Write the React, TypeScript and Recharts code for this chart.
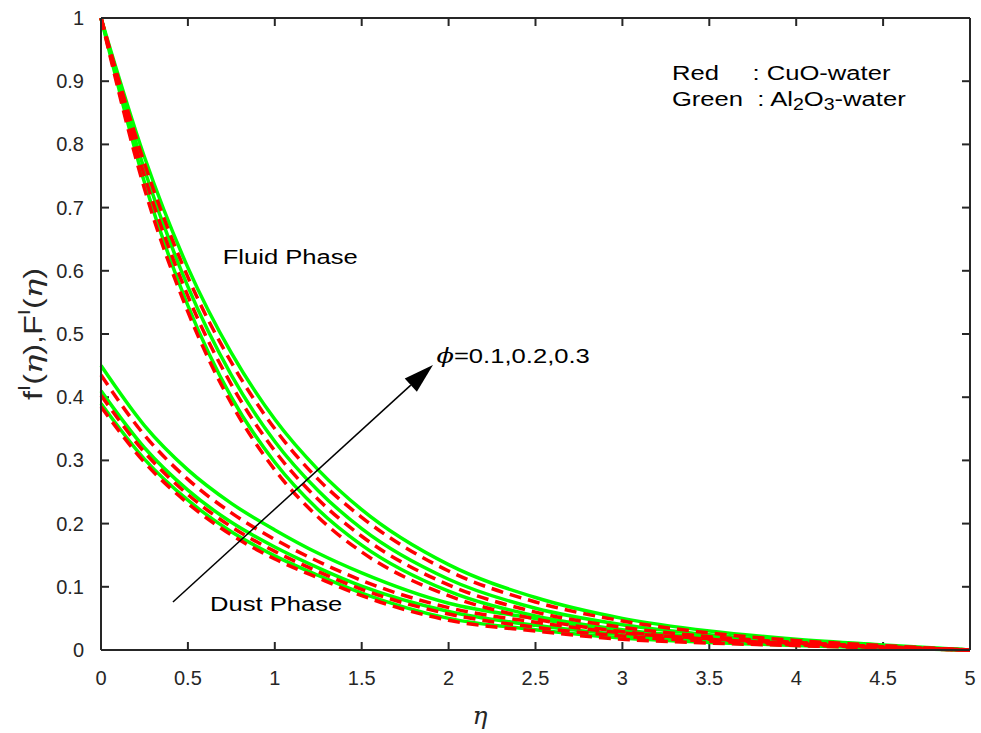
import React from 'react';
import { LineChart, Line, XAxis, YAxis, ReferenceLine, ReferenceDot } from 'recharts';

// eta grid
const eta = [0, 0.25, 0.5, 0.75, 1, 1.25, 1.5, 2, 2.5, 3, 3.5, 4, 4.5, 5];

// fluid phase f'(eta), phi = 0.1, 0.2, 0.3
const fluidCuO1 = [1, 0.73, 0.535, 0.39, 0.285, 0.21, 0.155, 0.086, 0.049, 0.029, 0.017, 0.01, 0.004, 0];
const fluidAl1 = [1, 0.74, 0.545, 0.4, 0.297, 0.222, 0.166, 0.093, 0.054, 0.032, 0.019, 0.011, 0.005, 0];
const fluidCuO2 = [1, 0.75, 0.56, 0.42, 0.315, 0.238, 0.18, 0.103, 0.06, 0.036, 0.021, 0.012, 0.005, 0];
const fluidAl2 = [1, 0.76, 0.575, 0.435, 0.33, 0.252, 0.192, 0.112, 0.066, 0.04, 0.024, 0.013, 0.006, 0];
const fluidCuO3 = [1, 0.77, 0.59, 0.455, 0.35, 0.27, 0.21, 0.125, 0.076, 0.046, 0.027, 0.015, 0.007, 0];
const fluidAl3 = [1, 0.78, 0.605, 0.47, 0.365, 0.285, 0.222, 0.135, 0.083, 0.05, 0.03, 0.017, 0.008, 0];

// dust phase F'(eta)
const dustCuO1 = [0.385, 0.297, 0.232, 0.182, 0.144, 0.114, 0.086, 0.047, 0.03, 0.017, 0.011, 0.007, 0.003, 0];
const dustAl1 = [0.39, 0.302, 0.237, 0.187, 0.149, 0.118, 0.09, 0.05, 0.032, 0.019, 0.012, 0.007, 0.003, 0];
const dustCuO2 = [0.403, 0.313, 0.246, 0.195, 0.156, 0.124, 0.096, 0.057, 0.036, 0.022, 0.014, 0.008, 0.004, 0];
const dustAl2 = [0.41, 0.32, 0.253, 0.202, 0.163, 0.13, 0.101, 0.061, 0.039, 0.024, 0.015, 0.009, 0.004, 0];
const dustCuO3 = [0.435, 0.34, 0.27, 0.217, 0.175, 0.14, 0.11, 0.067, 0.044, 0.027, 0.018, 0.011, 0.005, 0];
const dustAl3 = [0.45, 0.355, 0.285, 0.232, 0.19, 0.153, 0.122, 0.074, 0.05, 0.03, 0.02, 0.012, 0.005, 0];

const xTicks = [0, 0.5, 1, 1.5, 2, 2.5, 3, 3.5, 4, 4.5, 5];
const yTicks = [0, 0.1, 0.2, 0.3, 0.4, 0.5, 0.6, 0.7, 0.8, 0.9, 1];

const greens = { fluidAl1, fluidAl2, fluidAl3, dustAl1, dustAl2, dustAl3 };
const reds = { fluidCuO1, fluidCuO2, fluidCuO3, dustCuO1, dustCuO2, dustCuO3 };

const data = eta.map((x, i) => {
  const row: any = { eta: x };
  Object.entries(greens).forEach(([k, v]) => (row[k] = v[i]));
  Object.entries(reds).forEach(([k, v]) => (row[k] = v[i]));
  return row;
});

const FONT = '"Liberation Sans", Arial, sans-serif';
const AXIS = '#262626';
const TICK_LEN = 8;
const STRETCH = 1.22;

const BottomTick = (p: any) => (
  <text x={p.x} y={p.y} dy="0.71em" textAnchor="middle" fontSize={20} fontFamily={FONT} fill={AXIS}>
    {p.payload.value}
  </text>
);

const LeftTick = (p: any) => (
  <text x={p.x} y={p.y} dominantBaseline="central" textAnchor="end" fontSize={20} fontFamily={FONT} fill={AXIS}>
    {p.payload.value}
  </text>
);

// inward tick marks at both ends of a full-height / full-width reference line
const VTicks = (p: any) => {
  const { x1, y1, x2, y2 } = p;
  const lo = Math.max(y1, y2);
  const hi = Math.min(y1, y2);
  return (
    <g stroke={AXIS} strokeWidth={2}>
      <line x1={x1} y1={lo} x2={x2} y2={lo - TICK_LEN} />
      <line x1={x1} y1={hi} x2={x2} y2={hi + TICK_LEN} />
    </g>
  );
};
const HTicks = (p: any) => {
  const { x1, y1, x2, y2 } = p;
  const l = Math.min(x1, x2);
  const r = Math.max(x1, x2);
  return (
    <g stroke={AXIS} strokeWidth={2}>
      <line x1={l} y1={y1} x2={l + TICK_LEN} y2={y2} />
      <line x1={r} y1={y1} x2={r - TICK_LEN} y2={y2} />
    </g>
  );
};

const Arrow = (props: any) => {
  const { x1, y1, x2, y2 } = props;
  const ang = Math.atan2(y2 - y1, x2 - x1);
  const len = 30;
  const half = 9;
  const bx = x2 - len * Math.cos(ang);
  const by = y2 - len * Math.sin(ang);
  const px = -Math.sin(ang) * half;
  const py = Math.cos(ang) * half;
  return (
    <g>
      <line x1={x1} y1={y1} x2={bx} y2={by} stroke="#000" strokeWidth={1.5} />
      <polygon points={`${x2},${y2} ${bx + px},${by + py} ${bx - px},${by - py}`} fill="#000" />
    </g>
  );
};

// annotation text, horizontally stretched like the original export
const textLabel = (render: () => React.ReactNode) => (props: any) => {
  const vb = props.viewBox || {};
  const x = vb.x + (vb.width || 0) / 2;
  const y = vb.y + (vb.height || 0) / 2;
  return (
    <g transform={`translate(${x},${y}) scale(${STRETCH},1)`} fontSize={21} fontFamily={FONT} fill="#000">
      {render()}
    </g>
  );
};

const App = () => {
  return (
    <div style={{ position: 'absolute', left: 0, top: 0, background: '#fff' }}>
      <LineChart width={981} height={733} data={data} margin={{ top: 17, right: 10, left: 0, bottom: 0 }}>
        <XAxis
          dataKey="eta"
          type="number"
          domain={[0, 5]}
          ticks={xTicks}
          height={83}
          tickSize={0}
          tickLine={false}
          tickMargin={21}
          axisLine={{ stroke: AXIS, strokeWidth: 2 }}
          tick={BottomTick}
          label={{
            content: (p: any) => (
              <text x={p.viewBox.x + 379} y={p.viewBox.y + 74} textAnchor="middle" fontSize={25} fontStyle="italic" fontFamily="DejaVu Serif" fill={AXIS}>
                η
              </text>
            ),
          }}
        />
        <XAxis xAxisId="top" orientation="top" type="number" domain={[0, 5]} ticks={xTicks} height={1} tick={false} tickLine={false} axisLine={{ stroke: AXIS, strokeWidth: 2 }} />
        <YAxis
          type="number"
          domain={[0, 1]}
          ticks={yTicks}
          width={101}
          tickSize={0}
          tickLine={false}
          tickMargin={17}
          axisLine={{ stroke: AXIS, strokeWidth: 2 }}
          tick={LeftTick}
          label={{
            content: (p: any) => {
              const x = 33;
              const y = p.viewBox.y + p.viewBox.height / 2;
              return (
                <text transform={`rotate(-90, ${x}, ${y})`} x={x} y={y} textAnchor="middle" dominantBaseline="central" fontSize={25} fontFamily={FONT} fill={AXIS} textLength={132} lengthAdjust="spacingAndGlyphs">
                  <tspan>f</tspan>
                  <tspan dy={-9} fontSize={17}>I</tspan>
                  <tspan dy={9}>(</tspan>
                  <tspan fontStyle="italic" fontFamily="DejaVu Serif">η</tspan>
                  <tspan>),F</tspan>
                  <tspan dy={-9} fontSize={17}>I</tspan>
                  <tspan dy={9}>(</tspan>
                  <tspan fontStyle="italic" fontFamily="DejaVu Serif">η</tspan>
                  <tspan>)</tspan>
                </text>
              );
            },
          }}
        />
        <YAxis yAxisId="right" orientation="right" type="number" domain={[0, 1]} ticks={yTicks} width={1} tick={false} tickLine={false} axisLine={{ stroke: AXIS, strokeWidth: 2 }} />

        <ReferenceLine y={1} stroke={AXIS} strokeWidth={2} />
        <ReferenceLine x={5} stroke={AXIS} strokeWidth={2} />
        {xTicks.map((t) => (
          <ReferenceLine key={`xt${t}`} x={t} shape={VTicks} />
        ))}
        {yTicks.map((t) => (
          <ReferenceLine key={`yt${t}`} y={t} shape={HTicks} />
        ))}

        {Object.keys(greens).map((k) => (
          <Line key={k} type="monotone" dataKey={k} stroke="#00ff00" strokeWidth={3.5} dot={false} isAnimationActive={false} />
        ))}
        {Object.keys(reds).map((k) => (
          <Line key={k} type="monotone" dataKey={k} stroke="#ff0000" strokeWidth={3.5} strokeDasharray="12 7" dot={false} isAnimationActive={false} />
        ))}

        <ReferenceLine segment={[{ x: 0.414, y: 0.076 }, { x: 1.91, y: 0.451 }]} shape={Arrow} />

        <ReferenceDot
          x={0.7}
          y={0.622}
          r={0}
          fill="none"
          stroke="none"
          label={{ content: textLabel(() => <text dominantBaseline="central">Fluid Phase</text>) }}
        />
        <ReferenceDot
          x={0.627}
          y={0.073}
          r={0}
          fill="none"
          stroke="none"
          label={{ content: textLabel(() => <text dominantBaseline="central">Dust Phase</text>) }}
        />
        <ReferenceDot
          x={1.93}
          y={0.465}
          r={0}
          fill="none"
          stroke="none"
          label={{
            content: textLabel(() => (
              <text dominantBaseline="central">
                <tspan fontStyle="italic" fontFamily="DejaVu Serif">ϕ</tspan>
                <tspan>=0.1,0.2,0.3</tspan>
              </text>
            )),
          }}
        />
        <ReferenceDot
          x={3.285}
          y={0.913}
          r={0}
          fill="none"
          stroke="none"
          label={{
            content: textLabel(() => (
              <g>
                <text dominantBaseline="central">Red</text>
                <text x={66} dominantBaseline="central">: CuO-water</text>
                <text y={26} dominantBaseline="central">Green</text>
                <text x={70} y={26} dominantBaseline="central">
                  <tspan>: Al</tspan>
                  <tspan dy={6} fontSize={16}>2</tspan>
                  <tspan dy={-6}>O</tspan>
                  <tspan dy={6} fontSize={16}>3</tspan>
                  <tspan dy={-6}>-water</tspan>
                </text>
              </g>
            )),
          }}
        />
      </LineChart>
    </div>
  );
};

export default App;
